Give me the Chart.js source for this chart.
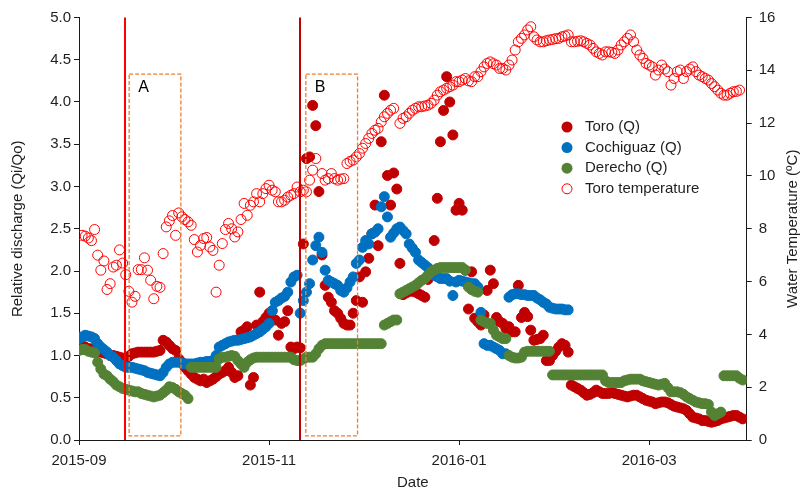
<!DOCTYPE html>
<html>
<head>
<meta charset="utf-8">
<script src="https://cdn.jsdelivr.net/npm/chart.js@4.4.1/dist/chart.umd.min.js"></script>
<style>
  html, body { margin: 0; padding: 0; background: #fff; }
</style>
</head>
<body>
<canvas id="dischargeChart" width="804" height="492"></canvas>
<script>
// x values are days counted from 2015-09-01
const xTickDays = [0, 61, 122, 183];
const xTickLabels = ["2015-09", "2015-11", "2016-01", "2016-03"];

// Toro (Q), daily from day 0
const toroStart = 0;
const toroQ = [
  1.12, 1.12, 1.10, 1.08, 1.08, 1.06, 1.05, 1.04, 1.03, 1.02,
  1.00, 1.00, 0.99, 0.98, 0.97, 0.97, 0.99, 1.02, 1.03, 1.04,
  1.04, 1.04, 1.04, 1.04, 1.04, 1.05, 1.06, 1.18, 1.16, 1.12,
  1.08, 1.06, 0.96, 0.92, 0.86, 0.82, 0.78, 0.74, 0.72, 0.70,
  0.72, 0.68, 0.70, 0.72, 0.75, 0.78, 0.80, 0.82, 0.86, 0.80,
  0.74, 0.76, 1.28, 1.30, 1.34, 0.65, 0.74, 1.36, 1.75, 1.40,
  1.45, 1.50, 1.53, 1.42, 1.24, 1.38, 1.40, 1.53, 1.10, 1.08,
  1.10, 1.09, 2.32, 3.33, 3.35, 3.96, 3.72, 2.94, 2.19, 1.83,
  1.69, 1.63, 1.53, 1.50, 1.44, 1.38, 1.36, 1.36, 1.50, 1.65,
  1.93, 1.63, 1.99, 2.15, 2.44, 2.78, 2.30, 3.53, 4.08, 3.13,
  2.78, 3.16, 2.97, 2.09, 1.72, 1.74, 1.76, 1.76, 1.75, 1.73,
  1.71, 1.69, 1.90, 2.00, 2.36, 2.86, 3.53, 3.90, 4.30, 4.00,
  3.61, 2.72, 2.80, 2.72, 2.01, 1.55, 1.99, 1.44, 1.40, 1.36,
  1.48, 1.77, 2.01, 1.85, 1.45, 1.40, 1.38, 1.32, 1.34, 1.28,
  1.28, 1.83, 1.45, 1.51, 1.46, 1.30, 1.18, 1.19, 1.20, 1.24,
  0.94, 0.94, 1.00, 1.05, 1.10, 1.14, 1.12, 1.04, 0.65, 0.63,
  0.61, 0.59, 0.56, 0.53, 0.54, 0.56, 0.59, 0.57, 0.55, 0.55,
  0.55, 0.56, 0.55, 0.54, 0.53, 0.52, 0.51, 0.52, 0.53, 0.53,
  0.51, 0.49, 0.47, 0.46, 0.45, 0.43, 0.44, 0.45, 0.45, 0.44,
  0.42, 0.40, 0.39, 0.38, 0.37, 0.35, 0.31, 0.27, 0.26, 0.25,
  0.23, 0.23, 0.22, 0.21, 0.22, 0.23, 0.25, 0.26, 0.27, 0.28,
  0.29, 0.29, 0.27, 0.25
];

// Cochiguaz (Q), daily from day 0
const cochiStart = 0;
const cochiQ = [
  1.20, 1.22, 1.24, 1.23, 1.22, 1.20, 1.14, 1.10, 1.07, 1.04,
  1.00, 0.98, 0.94, 0.90, 0.88, 0.86, 0.86, 0.86, 0.85, 0.84,
  0.83, 0.82, 0.80, 0.79, 0.78, 0.77, 0.76, 0.80, 0.86, 0.90,
  0.92, 0.92, 0.92, 0.91, 0.90, 0.90, 0.90, 0.90, 0.91, 0.92,
  0.92, 0.93, 0.93, 0.94, 1.00, 1.10, 1.12, 1.14, 1.16, 1.17,
  1.18, 1.18, 1.19, 1.20, 1.21, 1.22, 1.24, 1.26, 1.28, 1.31,
  1.34, 1.38, 1.53, 1.63, 1.65, 1.68, 1.70, 1.75, 1.87, 1.93,
  1.95, 1.50, 1.65, 1.75, 1.85, 2.13, 2.30, 2.40, 2.22, 2.01,
  1.89, 1.87, 1.85, 1.83, 1.77, 1.75, 1.80, 1.87, 1.93, 2.09,
  2.13, 2.28, 2.36, 2.32, 2.44, 2.46, 2.50, 2.76, 2.88, 2.64,
  2.40, 2.45, 2.50, 2.52, 2.48, 2.44, 2.32, 2.27, 2.22, 2.13,
  2.10, 2.07, 2.04, 2.01, 1.95, 1.93, 1.91, 1.91, 1.91, 1.88,
  1.71, 1.87, 1.89, 1.88, 1.87, 1.86, 1.85, 1.85, 1.81, 1.51,
  1.14, 1.12, 1.12, 1.10, 1.08, 1.06, 1.02, 1.02, 1.69, 1.72,
  1.73, 1.73, 1.72, 1.72, 1.71, 1.71, 1.71, 1.68, 1.66, 1.63,
  1.61, 1.57, 1.56, 1.55, 1.55, 1.55, 1.54, 1.54
];

// Derecho (Q), daily from day 0
const derechoStart = 0;
const derechoQ = [
  1.06, 1.07, 1.07, 1.05, 1.04, 1.03, 0.92, 0.84, 0.78, 0.76,
  0.72, 0.69, 0.65, 0.63, 0.61, 0.60, 0.59, 0.58, 0.57, 0.57,
  0.55, 0.54, 0.53, 0.52, 0.51, 0.52, 0.53, 0.56, 0.59, 0.63,
  0.62, 0.60, 0.57, 0.55, 0.53, 0.49, 0.86, 0.86, 0.86, 0.86,
  0.86, 0.86, 0.86, 0.86, 0.86, 0.96, 0.98, 0.98, 0.99, 1.00,
  0.99, 0.94, 0.90, 0.86, 0.92, 0.95, 0.97, 0.98, 0.98, 0.98,
  0.98, 0.98, 0.98, 0.98, 0.98, 0.98, 0.98, 0.98, 0.98, 0.95,
  0.94, 0.94, 0.96, 0.98, 0.98, 0.98, 1.02, 1.08, 1.12, 1.14,
  1.14, 1.14, 1.14, 1.14, 1.14, 1.14, 1.14, 1.14, 1.14, 1.14,
  1.14, 1.14, 1.14, 1.14, 1.14, 1.14, 1.14, 1.14, 1.36, 1.38,
  1.40, 1.42, 1.42, 1.73, 1.75, 1.77, 1.79, 1.81, 1.83, 1.86,
  1.89, 1.91, 1.95, 1.99, 2.01, 2.03, 2.04, 2.04, 2.04, 2.04,
  2.04, 2.04, 2.04, 2.04, 2.01, 1.81, 1.78, 1.76, 1.75, 1.42,
  1.40, 1.38, 1.38, 1.30, 1.24, 1.22, 1.20, 1.20, 1.00, 0.98,
  0.97, 0.97, 0.98, 1.04, 1.05, 1.05, 1.05, 1.05, 1.05, 1.05,
  1.05, 1.05, 0.77, 0.77, 0.77, 0.77, 0.77, 0.77, 0.77, 0.77,
  0.77, 0.77, 0.77, 0.77, 0.77, 0.77, 0.77, 0.77, 0.77, 0.70,
  0.68, 0.68, 0.68, 0.68, 0.68, 0.70, 0.71, 0.72, 0.72, 0.72,
  0.72, 0.70, 0.69, 0.68, 0.67, 0.66, 0.65, 0.66, 0.67, 0.62,
  0.57, 0.57, 0.57, 0.56, 0.54, 0.51, 0.49, 0.47, 0.45, 0.44,
  0.43, 0.43, 0.42, 0.33, 0.29, 0.31, 0.33, 0.76, 0.76, 0.76,
  0.76, 0.76, 0.73, 0.71
];

// Toro temperature (ºC), daily from day 1, null = no reading
const tempStart = 1;
const tempC = [
  7.75, 7.72, 7.65, 7.55, 7.97, 7.00, 6.43, 6.78, 5.70, 5.92,
  6.55, 6.62, 7.20, 6.70, 6.26, 5.63, 5.22, 5.44, 6.45, 6.45,
  6.90, 6.43, 6.05, 5.35, 5.82, 5.78, 7.06, 8.07, 8.30, 8.50,
  7.75, 8.60, 8.45, 8.35, 8.26, 8.13, 7.59, 7.12, 7.37, 7.63,
  7.67, 7.31, 7.18, 5.60, 6.62, 7.44, 7.97, 8.20, 8.00, 7.69,
  7.88, 8.35, 8.96, 8.51, 8.89, 9.02, 9.33, 9.02, 9.33, 9.52,
  9.65, 9.46, 9.40, 9.02, 9.02, 9.08, 9.20, 9.27, 9.33, 9.58,
  9.40, 9.46, 9.40, 9.84, 10.22, 10.66, null, 10.09, 9.84, 9.90,
  10.09, 9.90, 9.84, 9.88, 9.90, 10.47, 10.55, 10.60, 10.72, 10.85,
  11.05, 11.23, 11.42, 11.61, 11.73, 11.80, 12.05, 12.24, 12.37, 12.49,
  12.56, null, 11.99, 12.18, 12.24, 12.37, 12.49, 12.56, 12.62, 12.62,
  12.65, 12.68, 12.75, 12.87, 13.06, 13.19, 13.25, 13.32, 13.38, 13.44,
  13.57, 13.57, 13.63, 13.69, 13.60, 13.57, 13.76, 13.76, 13.95, 14.13,
  14.26, 14.32, 14.25, 14.20, 14.07, 14.07, 14.01, 14.20, 14.39, 14.77,
  15.08, 15.21, 15.34, 15.53, 15.65, 15.27, 15.15, 15.08, 15.08, 15.12,
  15.15, 15.17, 15.20, 15.21, 15.27, 15.30, 15.34, 15.08, 15.08, 15.10,
  15.12, 15.08, 15.02, 14.96, 14.83, 14.70, 14.64, 14.58, 14.70, 14.70,
  14.68, 14.64, 14.77, 14.96, 15.08, 15.21, 15.34, 15.08, 14.77, 14.58,
  14.45, 14.26, 14.20, 14.13, 13.82, 14.01, 14.20, 14.05, 13.95, 13.44,
  13.69, 13.95, 14.01, 13.69, 13.95, 14.05, 14.13, 13.95, 13.82, 13.76,
  13.69, 13.63, 13.50, 13.38, 13.25, 13.13, 13.06, 13.06, 13.13, 13.19,
  13.20, 13.25
];

// event lines and the two dashed windows (days / Qi/Qo units)
const eventDays = [14.8, 70.9];
const eventColors = ["#FF0000", "#C00000"];
const windowDays = [[16.1, 32.7], [72.8, 89.4]];
const windowQ = [0.05, 4.33];
const windowNames = ["A", "B"];

const seriesNames = ["Toro (Q)", "Cochiguaz (Q)", "Derecho (Q)", "Toro temperature"];
const seriesColors = ["#C00000", "#0070C0", "#548235", "#FF0000"];

const FONT = "'Liberation Sans', Arial, sans-serif";
const TEXT = "#1f1f1f";
const AXIS = "#1a1a1a";

function toPoints(start, values) {
  return values.map((v, i) => ({ x: start + i, y: v })).filter(p => p.y !== null);
}

const overlay = {
  id: "overlay",
  afterDatasetsDraw(chart) {
    const { ctx, chartArea, scales } = chart;
    const x = scales.x, y = scales.y;
    ctx.save();

    // dashed windows
    ctx.strokeStyle = "#ED7D31";
    ctx.lineWidth = 1.3;
    ctx.setLineDash([4, 2]);
    windowDays.forEach((w, i) => {
      const left = x.getPixelForValue(w[0]);
      const right = x.getPixelForValue(w[1]);
      const top = y.getPixelForValue(windowQ[1]);
      const bottom = y.getPixelForValue(windowQ[0]);
      ctx.strokeRect(left, top, right - left, bottom - top);
      ctx.fillStyle = "#000";
      ctx.font = "16px " + FONT;
      ctx.textAlign = "left";
      ctx.textBaseline = "middle";
      ctx.fillText(windowNames[i], left + 9, top + 13);
    });
    ctx.setLineDash([]);

    // sampling event lines
    eventDays.forEach((d, i) => {
      const px = Math.round(x.getPixelForValue(d));
      ctx.strokeStyle = eventColors[i];
      ctx.lineWidth = 2;
      ctx.beginPath();
      ctx.moveTo(px, chartArea.top);
      ctx.lineTo(px, chartArea.bottom);
      ctx.stroke();
    });
    ctx.restore();
  },
  afterDraw(chart) {
    const { ctx, chartArea } = chart;
    const midY = (chartArea.top + chartArea.bottom) / 2;
    ctx.save();
    ctx.fillStyle = TEXT;
    ctx.font = "15px " + FONT;
    ctx.textAlign = "center";
    ctx.textBaseline = "middle";

    // axis titles
    ctx.fillText("Date", (chartArea.left + chartArea.right) / 2, 483);
    ctx.save();
    ctx.translate(18, midY);
    ctx.rotate(-Math.PI / 2);
    ctx.fillText("Relative discharge (Qi/Qo)", 0, 0);
    ctx.restore();
    ctx.save();
    ctx.translate(793, midY);
    ctx.rotate(-Math.PI / 2);
    ctx.fillText("Water Temperature (ºC)", 0, 0);
    ctx.restore();

    // legend inside the plot
    ctx.textAlign = "left";
    seriesNames.forEach((name, i) => {
      const ly = 127 + i * 20.6;
      ctx.beginPath();
      ctx.arc(567, ly, i === 3 ? 5 : 5.5, 0, Math.PI * 2);
      if (i === 3) {
        ctx.strokeStyle = seriesColors[i];
        ctx.lineWidth = 1;
        ctx.stroke();
      } else {
        ctx.fillStyle = seriesColors[i];
        ctx.fill();
      }
      ctx.fillStyle = TEXT;
      ctx.fillText(name, 585, ly);
    });
    ctx.restore();
  }
};

const filled = (label, color, data, order) => ({
  label, data, order,
  backgroundColor: color,
  borderColor: color,
  borderWidth: 1,
  pointRadius: 5,
  pointHoverRadius: 5,
  yAxisID: "y"
});

new Chart(document.getElementById("dischargeChart"), {
  type: "scatter",
  data: {
    datasets: [
      filled(seriesNames[0], seriesColors[0], toPoints(toroStart, toroQ), 4),
      filled(seriesNames[1], seriesColors[1], toPoints(cochiStart, cochiQ), 3),
      filled(seriesNames[2], seriesColors[2], toPoints(derechoStart, derechoQ), 2),
      {
        label: seriesNames[3],
        data: toPoints(tempStart, tempC),
        order: 1,
        backgroundColor: "rgba(255,255,255,0)",
        borderColor: seriesColors[3],
        borderWidth: 1,
        pointRadius: 5,
        pointHoverRadius: 5,
        yAxisID: "y2"
      }
    ]
  },
  options: {
    responsive: false,
    animation: false,
    layout: { padding: { top: 17.5, left: 0, right: 0, bottom: 0 } },
    plugins: {
      legend: { display: false },
      tooltip: { enabled: false }
    },
    scales: {
      x: {
        type: "linear",
        min: 0,
        max: 214.3,
        afterBuildTicks: s => { s.ticks = xTickDays.map(v => ({ value: v })); },
        afterFit: s => { s.height = 52; },
        ticks: {
          autoSkip: false,
          maxRotation: 0,
          padding: 7,
          color: TEXT,
          font: { family: FONT, size: 15 },
          callback: (v, i) => xTickLabels[i]
        },
        grid: { drawOnChartArea: false, tickLength: 5, tickColor: AXIS },
        border: { color: AXIS, width: 1 }
      },
      y: {
        position: "left",
        min: 0,
        max: 5,
        afterFit: s => { s.width = 79; },
        ticks: {
          stepSize: 0.5,
          padding: 3,
          color: TEXT,
          font: { family: FONT, size: 15 },
          callback: v => v.toFixed(1)
        },
        grid: { drawOnChartArea: false, tickLength: 5, tickColor: AXIS },
        border: { color: AXIS, width: 1 }
      },
      y2: {
        position: "right",
        min: 0,
        max: 16,
        afterFit: s => { s.width = 57.3; },
        ticks: {
          stepSize: 2,
          padding: 7,
          color: TEXT,
          font: { family: FONT, size: 15 }
        },
        grid: { drawOnChartArea: false, tickLength: 5, tickColor: AXIS },
        border: { color: AXIS, width: 1 }
      }
    }
  },
  plugins: [overlay]
});
</script>
</body>
</html>
